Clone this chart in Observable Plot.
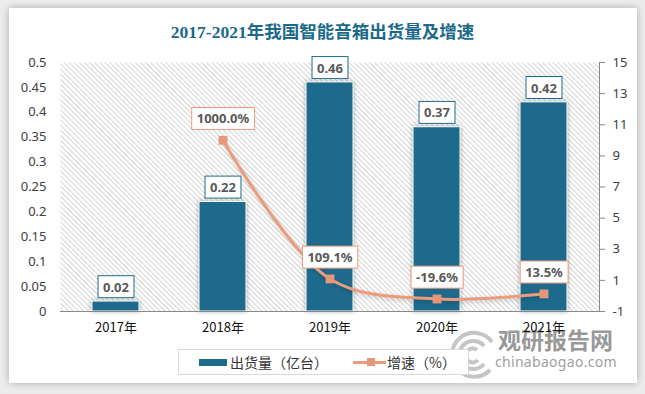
<!DOCTYPE html>
<html><head><meta charset="utf-8">
<script src="https://cdn.jsdelivr.net/npm/d3@7"></script>
<script src="https://cdn.jsdelivr.net/npm/@observablehq/plot@0.6"></script>
<style>
body{margin:0;background:#ececec;width:645px;height:394px;overflow:hidden;position:relative;font-family:"Noto Sans CJK SC",sans-serif;}
#card{position:absolute;left:9px;top:8px;width:628px;height:375px;background:#fff;box-shadow:0 0 7px rgba(0,0,0,0.28);}
#title{position:absolute;left:0;width:645px;top:21px;text-align:center;font-weight:bold;font-size:17.5px;font-family:"Liberation Serif","Noto Sans CJK SC",serif;color:#1b6a8b;line-height:22px;}
#chart{position:absolute;left:0;top:50px;}
#wm1{position:absolute;left:498px;top:324px;font:bold 23px "Noto Sans CJK SC";color:rgba(125,125,125,0.8);letter-spacing:0px;line-height:30px;}
#wm2{position:absolute;left:495px;top:353px;font:14px "Noto Sans";color:rgba(140,140,140,0.85);letter-spacing:0.3px;line-height:18px;}
#logo{position:absolute;left:440px;top:330px;}
#legend{position:absolute;left:178px;top:349px;width:289px;height:24px;border:1px solid #d9d9d9;background:#fff;}
.lg{position:absolute;top:2px;font-size:14px;color:#333;line-height:20px;font-family:"Noto Sans CJK SC";}
</style></head>
<body>
<div id="card"></div>
<svg id="logo" width="60" height="50"><g fill="none" stroke="rgba(150,150,150,0.55)" stroke-width="4"><path d="M52,12 A22,22 0 1 0 50,40"/><path d="M44,16 A14,14 0 1 0 44,34"/><path d="M37,20 A7,7 0 1 0 38,30"/></g></svg>
<div id="wm1">观研报告网</div>
<div id="wm2">chinabaogao.com</div>
<div id="chart"></div>
<div id="title">2017-2021年我国智能音箱出货量及增速</div>
<div id="legend">
  <div style="position:absolute;left:20px;top:9px;width:28px;height:7px;background:#1d6a8c;"></div>
  <div class="lg" style="left:51px;">出货量（亿台）</div>
  <div style="position:absolute;left:174px;top:11px;width:33px;height:3px;background:#ec9c7b;"></div>
  <div style="position:absolute;left:188px;top:8px;width:8px;height:8px;background:#e6977a;"></div>
  <div class="lg" style="left:208px;">增速（%）</div>
</div>
<script>
const years = ["2017年","2018年","2019年","2020年","2021年"];
const shipments = [0.02,0.22,0.46,0.37,0.42];
const shipLabels = ["0.02","0.22","0.46","0.37","0.42"];
const growth = [null,1000.0,109.1,-19.6,13.5];
const growthLabels = [null,"1000.0%","109.1%","-19.6%","13.5%"];
const leftTicks = [0,0.05,0.1,0.15,0.2,0.25,0.3,0.35,0.4,0.45,0.5];
const rightTicks = [-1,1,3,5,7,9,11,13,15];

const R = [-1,15];
const toLeft = v => (v - R[0])/(R[1]-R[0]) * 0.5;
const fromLeft = d => Math.round(d/0.5*(R[1]-R[0]) + R[0]);

const bars = years.map((year,i)=>({year, value: shipments[i], label: shipLabels[i]}));
const pts = years.map((year,i)=>({year, g: growth[i], label: growthLabels[i]}))
  .filter(d=>d.g!=null).map(d=>({...d, y: toLeft(d.g/100)}));

const labelFont = {fontFamily:'"Noto Sans", sans-serif', fontWeight:"bold", fontSize:13, fill:"#595959", lineAnchor:"middle"};

const chart = Plot.plot({
  width:645, height:300, marginLeft:60, marginRight:46, marginTop:12, marginBottom:39,
  style:{fontFamily:'"Noto Sans","Noto Sans CJK SC",sans-serif', fontSize:"13px", color:"#404040", background:"transparent", overflow:"visible"},
  x:{domain:years, paddingInner:0.56, paddingOuter:0.28, axis:null},
  y:{domain:[0,0.5], axis:null},
  marks:[
    Plot.frame({fill:"url(#hatch)", stroke:"none"}),
    Plot.axisX({tickSize:0, tickPadding:11, label:null, fontFamily:"Noto Sans CJK SC", fill:"#111"}),
    Plot.axisY(leftTicks, {anchor:"left", tickSize:0, tickPadding:14, label:null, fill:"#404040", tickFormat:d=>String(d)}),
    Plot.axisY(rightTicks.map(toLeft), {anchor:"right", tickSize:5, tickPadding:8, label:null, stroke:"#898989", fill:"#404040", tickFormat:fromLeft}),
    Plot.frame({anchor:"right", stroke:"#898989"}),
    Plot.barY(bars, {x:"year", y:"value", fill:"#1d6a8c", stroke:"#fff", strokeWidth:1}),
    Plot.ruleY([0], {stroke:"#898989"}),
    Plot.line(pts, {x:"year", y:"y", stroke:"#ec9c7b", strokeWidth:3, curve:"catmull-rom"}),
    Plot.dot(pts, {x:"year", y:"y", symbol:"square", r:5, fill:"#e6977a", stroke:"none"}),
    Plot.text(bars, {x:"year", y:"value", text:"label", dy:-14, ...labelFont}),
    Plot.text(pts, {x:"year", y:"y", text:"label", dy:-21, ...labelFont})
  ]
});
document.getElementById("chart").append(chart);

const svg = d3.select(chart);
const pat = svg.insert("defs", ":first-child").append("pattern")
  .attr("id","hatch").attr("patternUnits","userSpaceOnUse")
  .attr("width",3.6).attr("height",3.6).attr("patternTransform","rotate(-45)");
pat.append("rect").attr("width",3.6).attr("height",3.6).attr("fill","#fff");
pat.append("line").attr("x1",0.5).attr("y1",0).attr("x2",0.5).attr("y2",3.6).attr("stroke","#d3d3d3").attr("stroke-width",1);

svg.selectAll('g[aria-label="bar"]').style("filter","drop-shadow(0 0 2px rgba(0,0,0,0.35))");
svg.selectAll('g[aria-label="line"]').style("filter","drop-shadow(1px 2px 2px rgba(0,0,0,0.2))");

const textGroups = svg.selectAll('g[aria-label="text"]').nodes();
function boxify(group, color){
  d3.select(group).selectAll("text").each(function(){
    const b = this.getBBox();
    const cy = b.y + b.height/2;
    const r = d3.select(this.parentNode).insert("rect", () => this)
      .attr("x", b.x-5).attr("y", cy-11).attr("width", b.width+10).attr("height", 22)
      .attr("fill","#fff").attr("stroke",color).attr("stroke-width",1);
    const t = this.getAttribute("transform");
    if (t) r.attr("transform", t);
  });
}
boxify(textGroups[0], "#1d6a8c");
boxify(textGroups[1], "#ec9c7b");
</script>
</body></html>
